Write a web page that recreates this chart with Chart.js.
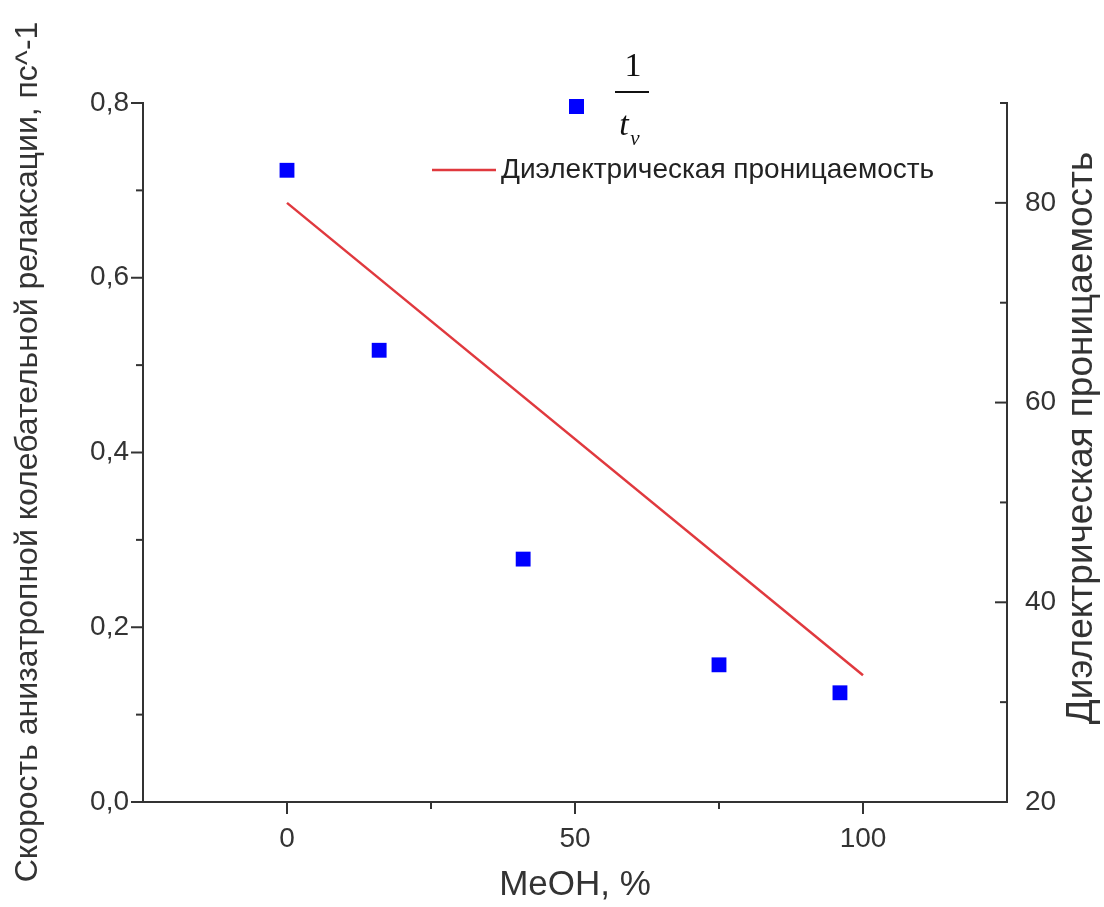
<!DOCTYPE html>
<html>
<head>
<meta charset="utf-8">
<script src="https://cdn.jsdelivr.net/npm/chart.js@4.4.1/dist/chart.umd.min.js"></script>
<style>
  html, body { margin: 0; padding: 0; background: #fff; }
  #wrap { width: 1104px; height: 907px; position: relative; }
</style>
</head>
<body>
<div id="wrap"><canvas id="relaxChart"></canvas></div>
<script>
// MeOH content, % and measured rate 1/t_v, ps^-1
var methanol = [0, 16, 41, 75, 96];
var rate = [0.723, 0.517, 0.278, 0.157, 0.125];

// dielectric permittivity line (water -> methanol)
var permX = [0, 100];
var perm = [80, 32.7];

// axis ticks
var xTicks = [0, 50, 100];
var xMinor = [25, 75];
var yTicks = [0, 0.2, 0.4, 0.6, 0.8];
var yMinor = [0.1, 0.3, 0.5, 0.7];
var y1Ticks = [20, 40, 60, 80];
var y1Minor = [30, 50, 70, 90];

var axisColor = '#333';
var sans = '"Liberation Sans", Arial, sans-serif';
var serif = '"Liberation Serif", "Times New Roman", serif';

function pairs(xs, ys) {
    var out = [];
    for (var i = 0; i < xs.length; i++) {
        out.push({x: xs[i], y: ys[i]});
    }
    return out;
}

function setTicks(list) {
    return function(scale) {
        scale.ticks = list.map(function(v) { return {value: v}; });
    };
}

// tick marks, axis titles and the legend
var decorations = {
    id: 'decorations',
    afterDraw: function(chart) {
        var ctx = chart.ctx;
        var x = chart.scales.x, y = chart.scales.y, y1 = chart.scales.y1;
        var area = chart.chartArea;
        ctx.save();
        ctx.strokeStyle = axisColor;
        ctx.lineWidth = 2;

        function mark(x0, y0, x1, y1p) {
            ctx.beginPath();
            ctx.moveTo(x0, y0);
            ctx.lineTo(x1, y1p);
            ctx.stroke();
        }
        xTicks.forEach(function(v) { var p = x.getPixelForValue(v); mark(p, area.bottom, p, area.bottom + 12); });
        xMinor.forEach(function(v) { var p = x.getPixelForValue(v); mark(p, area.bottom, p, area.bottom + 7); });
        yTicks.forEach(function(v) { var p = y.getPixelForValue(v); mark(area.left, p, area.left - 12, p); });
        yMinor.forEach(function(v) { var p = y.getPixelForValue(v); mark(area.left, p, area.left - 7, p); });
        y1Ticks.forEach(function(v) { var p = y1.getPixelForValue(v); mark(area.right, p, area.right - 12, p); });
        y1Minor.forEach(function(v) { var p = y1.getPixelForValue(v); mark(area.right, p, area.right - 7, p); });

        // axis titles
        ctx.fillStyle = axisColor;
        ctx.textAlign = 'center';
        ctx.textBaseline = 'middle';
        ctx.font = '35px ' + sans;
        ctx.fillText('MeOH, %', (area.left + area.right) / 2, 885);

        ctx.save();
        ctx.translate(28, 452);
        ctx.rotate(-Math.PI / 2);
        ctx.font = '32px ' + sans;
        ctx.fillText('Скорость анизатропной колебательной релаксации, пс^-1', 0, 0);
        ctx.restore();

        ctx.save();
        ctx.translate(1082, 438);
        ctx.rotate(-Math.PI / 2);
        ctx.font = '37px ' + sans;
        ctx.fillText('Диэлектрическая проницаемость', 0, 0);
        ctx.restore();

        // legend: square marker with 1/t_v
        ctx.fillStyle = '#0000ff';
        ctx.fillRect(569, 99, 15, 15);
        ctx.fillStyle = '#111';
        ctx.textBaseline = 'alphabetic';
        ctx.font = '34px ' + serif;
        ctx.fillText('1', 633, 76);
        ctx.lineWidth = 2;
        ctx.strokeStyle = '#111';
        mark(615, 92, 649, 92);
        ctx.font = 'italic 34px ' + serif;
        ctx.fillText('t', 624, 135);
        ctx.font = 'italic 21px ' + serif;
        ctx.fillText('v', 635, 145);

        // legend: red line
        ctx.strokeStyle = '#e0393e';
        ctx.lineWidth = 2.5;
        mark(432, 170, 496, 170);
        ctx.fillStyle = '#222';
        ctx.textAlign = 'left';
        ctx.textBaseline = 'middle';
        ctx.font = '28px ' + sans;
        ctx.fillText('Диэлектрическая проницаемость', 501, 170);
        ctx.restore();
    }
};

var ctx = document.getElementById('relaxChart').getContext('2d');
var relaxChart = new Chart(ctx, {
    type: 'scatter',
    data: {
        datasets: [{
            label: '1/t_v',
            data: pairs(methanol, rate),
            yAxisID: 'y',
            pointStyle: 'rect',
            pointRadius: 10.5,
            pointHoverRadius: 10.5,
            backgroundColor: '#0000ff',
            borderColor: '#0000ff',
            borderWidth: 0,
            showLine: false
        }, {
            label: 'Диэлектрическая проницаемость',
            data: pairs(permX, perm),
            yAxisID: 'y1',
            showLine: true,
            borderColor: '#e0393e',
            borderWidth: 2.5,
            pointRadius: 0,
            pointHoverRadius: 0,
            fill: false
        }]
    },
    options: {
        responsive: true,
        maintainAspectRatio: false,
        animation: false,
        layout: { padding: { top: 103, left: 0, right: 0, bottom: 0 } },
        plugins: {
            legend: { display: false },
            tooltip: { enabled: false }
        },
        scales: {
            x: {
                type: 'linear',
                min: -25,
                max: 125,
                afterBuildTicks: setTicks(xTicks),
                afterFit: function(scale) { scale.height = 105; },
                grid: { display: false, drawTicks: false },
                border: { display: true, color: axisColor, width: 2 },
                ticks: {
                    padding: 20,
                    color: axisColor,
                    font: { family: sans, size: 28 },
                    maxRotation: 0
                }
            },
            y: {
                type: 'linear',
                position: 'left',
                min: 0,
                max: 0.8,
                afterBuildTicks: setTicks(yTicks),
                afterFit: function(scale) { scale.width = 143; },
                grid: { display: false, drawTicks: false },
                border: { display: true, color: axisColor, width: 2 },
                ticks: {
                    padding: 14,
                    color: axisColor,
                    font: { family: sans, size: 28 },
                    callback: function(v) { return v.toFixed(1).replace('.', ','); }
                }
            },
            y1: {
                type: 'linear',
                position: 'right',
                min: 20,
                max: 90,
                afterBuildTicks: setTicks(y1Ticks),
                afterFit: function(scale) { scale.width = 97; },
                grid: { display: false, drawTicks: false },
                border: { display: true, color: axisColor, width: 2 },
                ticks: {
                    padding: 18,
                    color: axisColor,
                    font: { family: sans, size: 28 }
                }
            }
        }
    },
    plugins: [decorations]
});
</script>
</body>
</html>
